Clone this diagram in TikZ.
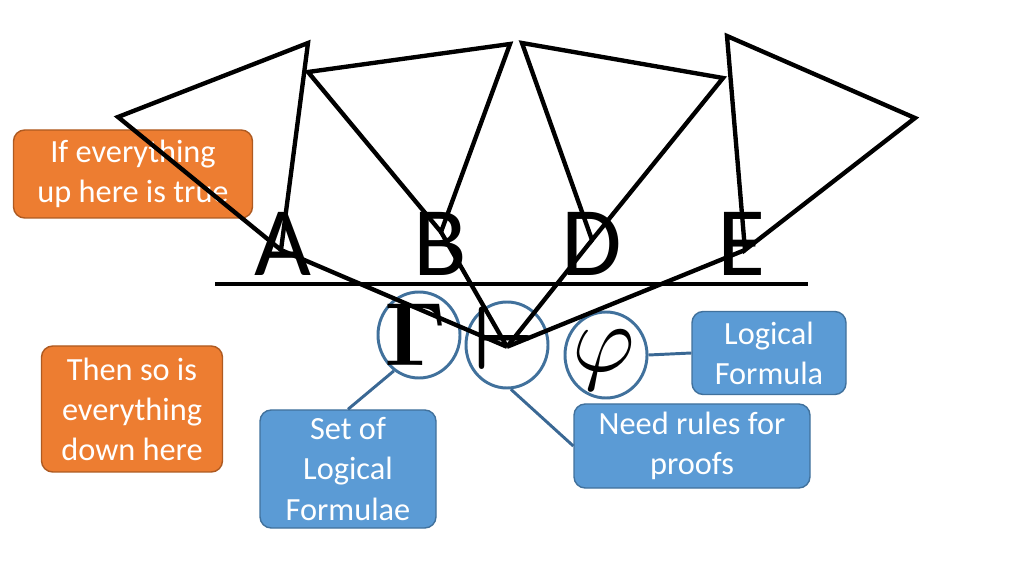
\documentclass[tikz,border=0pt]{standalone}
\usepackage{fontspec}
\setmainfont{Carlito}
\usetikzlibrary{shapes.geometric}
\definecolor{ink}{HTML}{000000}
\definecolor{noteBlue}{HTML}{5B9BD5}
\definecolor{noteBlueEdge}{HTML}{41719C}
\definecolor{noteOrange}{HTML}{ED7D31}
\definecolor{noteOrangeEdge}{HTML}{AE5A21}
\definecolor{linkBlue}{HTML}{3A6894}
\newcommand{\bigsym}[1]{\scalebox{6.4}{\boldmath$#1$}}
\newcommand{\bigthin}[1]{\scalebox{6.8}{$#1$}}
\tikzset{
    proof line/.style={ink, line width=3.1pt, line join=miter},
    blue note/.style={rounded corners=8pt, draw=noteBlueEdge, fill=noteBlue,
                     line width=1pt, text=white, align=center, inner sep=2pt,
                     font=\fontsize{23}{28.5}\selectfont},
    orange note/.style={rounded corners=8pt, draw=noteOrangeEdge, fill=noteOrange,
                       line width=1pt, text=white, align=center, inner sep=2pt,
                       font=\fontsize{23}{28.5}\selectfont},
    symbol ring/.style={ellipse, draw=noteBlueEdge, line width=2.1pt,
                       minimum width=2.05cm, minimum height=2.15cm, inner sep=0pt},
    glyph/.style={inner sep=0pt},
    premise/.style={anchor=base, inner sep=0pt, font=\fontsize{70}{70}\selectfont},
    link/.style={linkBlue, line width=2.1pt},
}
\begin{document}
\begin{tikzpicture}
\useasboundingbox (0,0) rectangle (25.6,14.4);

% Side notes.
\node[orange note, minimum width=5.975cm, minimum height=2.2cm] (upnote)
    at (3.325,10.05) {If everything\\up here is true};
\node[orange note, minimum width=4.525cm, minimum height=3.15cm] (downnote)
    at (3.3,4.175) {Then so is\\everything\\down here};

% Sequent symbols in their rings, with the explaining boxes.
\node[symbol ring] (gam) at (10.475,6.025) {};
\node[symbol ring] (turn) at (12.675,5.775) {};
\node[symbol ring] (phi) at (15.15,5.525) {};
\node[glyph] (gamma) at (10.4,6.03) {\bigsym{\Gamma}};
\node[glyph] (vdash) at (12.63,5.95) {\bigsym{\vdash}};
\node[glyph] (varphi) at (15.1,5.4) {\bigthin{\varphi}};

\node[blue note, minimum width=3.85cm, minimum height=2.075cm] (logic)
    at (19.225,5.575) {Logical\\Formula};
\node[blue note, minimum width=5.9cm, minimum height=2.1cm] (rules)
    at (17.3,3.25) {Need rules for\\proofs};
\node[blue note, minimum width=4.4cm, minimum height=2.95cm] (setof)
    at (8.7,2.675) {Set of\\Logical\\Formulae};

\draw[link] (phi.east) -- (logic.west);
\draw[link] (gam.-125) -- (setof.north);
\draw[link] (turn.-85) -- (rules.west);

% Premises above the rule.
\node[premise] (pA) at (7.075,7.5) {A};
\node[premise] (pB) at (11.0,7.5) {B};
\node[premise] (pD) at (14.8,7.5) {D};
\node[premise] (pE) at (18.55,7.5) {E};
\draw[proof line] (5.375,7.3) coordinate (ruleL) -- (20.2,7.3) coordinate (ruleR);

% Sub-proof triangles hanging from each premise.
\coordinate (joint) at (12.675,5.73);
\coordinate (tipA) at (7.025,8.15);
\coordinate (tipB) at (11.025,8.6);
\coordinate (tipD) at (14.8,8.4);
\coordinate (tipE) at (18.625,8.15);

\draw[proof line] (2.95,11.475) -- (7.7,13.325) -- (tipA) -- cycle;
\draw[proof line] (7.7,12.6) -- (12.75,13.3) -- (tipB) -- cycle;
\draw[proof line] (13.05,13.325) -- (18.075,12.45) -- (tipD) -- cycle;
\draw[proof line] (18.175,13.5) -- (22.875,11.45) -- (tipE) -- cycle;

\foreach \t in {tipA,tipB,tipD,tipE} {
    \draw[proof line] (\t) -- (joint);
}

\end{tikzpicture}
\end{document}
